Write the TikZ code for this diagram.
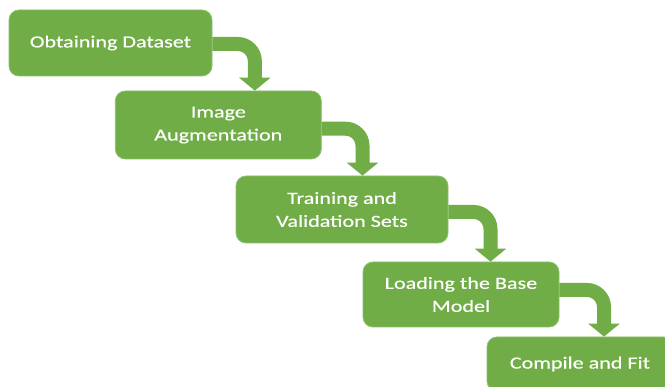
\documentclass[tikz,border=0pt]{standalone}
\usepackage{fontspec}
\usetikzlibrary{arrows.meta}
\newfontfamily\stepfont[FakeStretch=1.3,FakeBold=0.4]{Carlito}
\definecolor{stepgreen}{HTML}{70AD47}
\definecolor{stepedge}{HTML}{8DC06B}
\begin{document}
\begin{tikzpicture}[x=1pt,y=-1pt,
  stepbox/.style={rectangle, rounded corners=10pt, fill=stepgreen, draw=stepedge,
    line width=0.8pt, inner sep=0pt, align=center, text=white,
    font=\stepfont\fontsize{17}{23}\selectfont},
  flow/.style={draw=stepgreen, line width=14pt, line cap=butt, rounded corners=17pt,
    -{Triangle[width=31pt,length=13pt]}}]
  % canvas
  \fill[white] (0,0) rectangle (665,387);
  \clip (0,0) rectangle (665,387);

  % process steps
  \node[stepbox, minimum width=203pt, minimum height=66pt] (b1) at (110.5,43) {Obtaining Dataset};
  \node[stepbox, minimum width=206pt, minimum height=68pt] (b2) at (218.3,125) {Image\\Augmentation};
  \node[stepbox, minimum width=212pt, minimum height=67pt] (b3) at (342,209.5) {Training and\\Validation Sets};
  \node[stepbox, minimum width=196pt, minimum height=65pt] (b4) at (461,294.5) {Loading the Base\\Model};
  \node[stepbox, minimum width=186pt, minimum height=54pt] (b5) at (580,364) {Compile and Fit};

  % bent arrows between the steps
  \draw[flow] ([yshift=-1pt]b1.east) -| ([xshift=36.5pt]b2.north);
  \draw[flow] ([yshift=-3.7pt]b2.east) -| ([xshift=20.5pt]b3.north);
  \draw[flow] ([yshift=-2.5pt]b3.east) -| ([xshift=29.5pt]b4.north);
  \draw[flow] ([yshift=4.5pt]b4.east) -| ([xshift=24pt]b5.north);
\end{tikzpicture}
\end{document}
